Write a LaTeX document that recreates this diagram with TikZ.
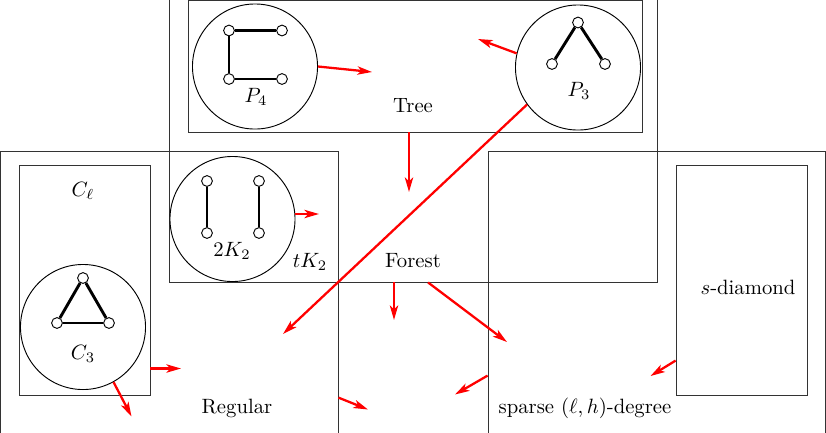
\documentclass[tikz,border=0pt]{standalone}
\usetikzlibrary{arrows.meta,fit,calc}
\begin{document}
\begin{tikzpicture}[x=0.483pt,y=-0.483pt,
  box/.style={draw=black!80,line width=0.4pt,inner sep=0pt,rectangle},
  gcirc/.style={draw,circle,line width=0.45pt,minimum size=60.4pt,inner sep=0pt},
  vtx/.style={draw,circle,fill=white,line width=0.45pt,minimum size=5.2pt,inner sep=0pt},
  gedge/.style={line width=1.4pt},
  rarr/.style={red,line width=1.1pt,-{Stealth[length=7pt,width=4pt,inset=1.8pt]}},
  lbl/.style={inner sep=0pt}]
\useasboundingbox (0,0) rectangle (826,432);
\clip (0,0) rectangle (826,432);
% boxes
\node[box,fit={(169,-20) (657,282)}] (forest) {};
\node[box,fit={(188,0.8) (642,132)}] (tree) {};
\node[box,fit={(0.5,151) (338,460)}] (regular) {};
\node[box,fit={(19,165) (150,395)}] (cl) {};
\node[box,fit={(488,151) (825,460)}] (sparse) {};
\node[box,fit={(676,165) (807,395)}] (sdiam) {};
% circles
\node[gcirc] (p4) at (255,66.5) {};
\node[gcirc] (p3) at (578,67.5) {};
\node[gcirc] (tk) at (232.5,219) {};
\node[gcirc] (c3) at (83,327) {};
% P4
\node[vtx] (a1) at (229,30.5) {};
\node[vtx] (a2) at (282,30.5) {};
\node[vtx] (a3) at (229,79) {};
\node[vtx] (a4) at (282,79) {};
\draw[gedge] (a2) -- (a1);
\draw[gedge] (a1) -- (a3);
\draw[gedge] (a3) -- (a4);
% P3
\node[vtx] (b1) at (578,22.5) {};
\node[vtx] (b2) at (552,64) {};
\node[vtx] (b3) at (605,64) {};
\draw[gedge] (b2) -- (b1);
\draw[gedge] (b1) -- (b3);
% 2K2
\node[vtx] (k1) at (207,181) {};
\node[vtx] (k2) at (207,233) {};
\node[vtx] (k3) at (259,181) {};
\node[vtx] (k4) at (259,233) {};
\draw[gedge] (k1) -- (k2);
\draw[gedge] (k3) -- (k4);
% C3
\node[vtx] (c1) at (83,278) {};
\node[vtx] (c2) at (57,323) {};
\node[vtx] (c4) at (109,323) {};
\draw[gedge] (c1) -- (c2);
\draw[gedge] (c2) -- (c4);
\draw[gedge] (c4) -- (c1);
% labels
\node[lbl] (lp4) at (256,97) {$P_4$};
\node[lbl] (lp3) at (579,91) {$P_3$};
\node[lbl] (ltree) at (413,106) {Tree};
\node[lbl] (l2k) at (232,251) {$2K_2$};
\node[lbl] (ltk) at (310,262) {$tK_2$};
\node[lbl] (lforest) at (413,261) {Forest};
\node[lbl] (lcl) at (83,191) {$C_\ell$};
\node[lbl] (lc3) at (83,354) {$C_3$};
\node[lbl] (lreg) at (237,408) {Regular};
\node[lbl] (lsp) at (585,408) {sparse $(\ell,h)$-degree};
\node[lbl] (lsd) at (748,287) {$s$-diamond};
% arrow tips
\coordinate (t1) at (372,72);
\coordinate (t2) at (478,39);
\coordinate (t3) at (283,334);
\coordinate (t4) at (409,192);
\coordinate (t5) at (319,214);
\coordinate (t6) at (394,320);
\coordinate (t7) at (507,342);
\coordinate (t8) at (455,394.5);
\coordinate (t9) at (650.5,376);
\coordinate (t10) at (368,409.5);
\coordinate (t11) at (181,368.5);
\coordinate (t12) at (131.5,416.5);
% arrows
\draw[rarr] (p4.east) -- (t1);
\draw[rarr] (p3.167) -- (t2);
\draw[rarr] (p3.216) -- (t3);
\draw[rarr] (tree.south -| t4) -- (t4);
\draw[rarr] (tk.east |- t5) -- (t5);
\draw[rarr] (forest.south -| t6) -- (t6);
\draw[rarr] ($(forest.south)+(15,0)$) -- (t7);
\draw[rarr] ($(sparse.north west)+(0,225)$) -- (t8);
\draw[rarr] ($(sdiam.north west)+(0,196)$) -- (t9);
\draw[rarr] ($(regular.north east)+(0,247)$) -- (t10);
\draw[rarr] (cl.east |- t11) -- (t11);
\draw[rarr] (c3.-61) -- (t12);
\end{tikzpicture}
\end{document}
